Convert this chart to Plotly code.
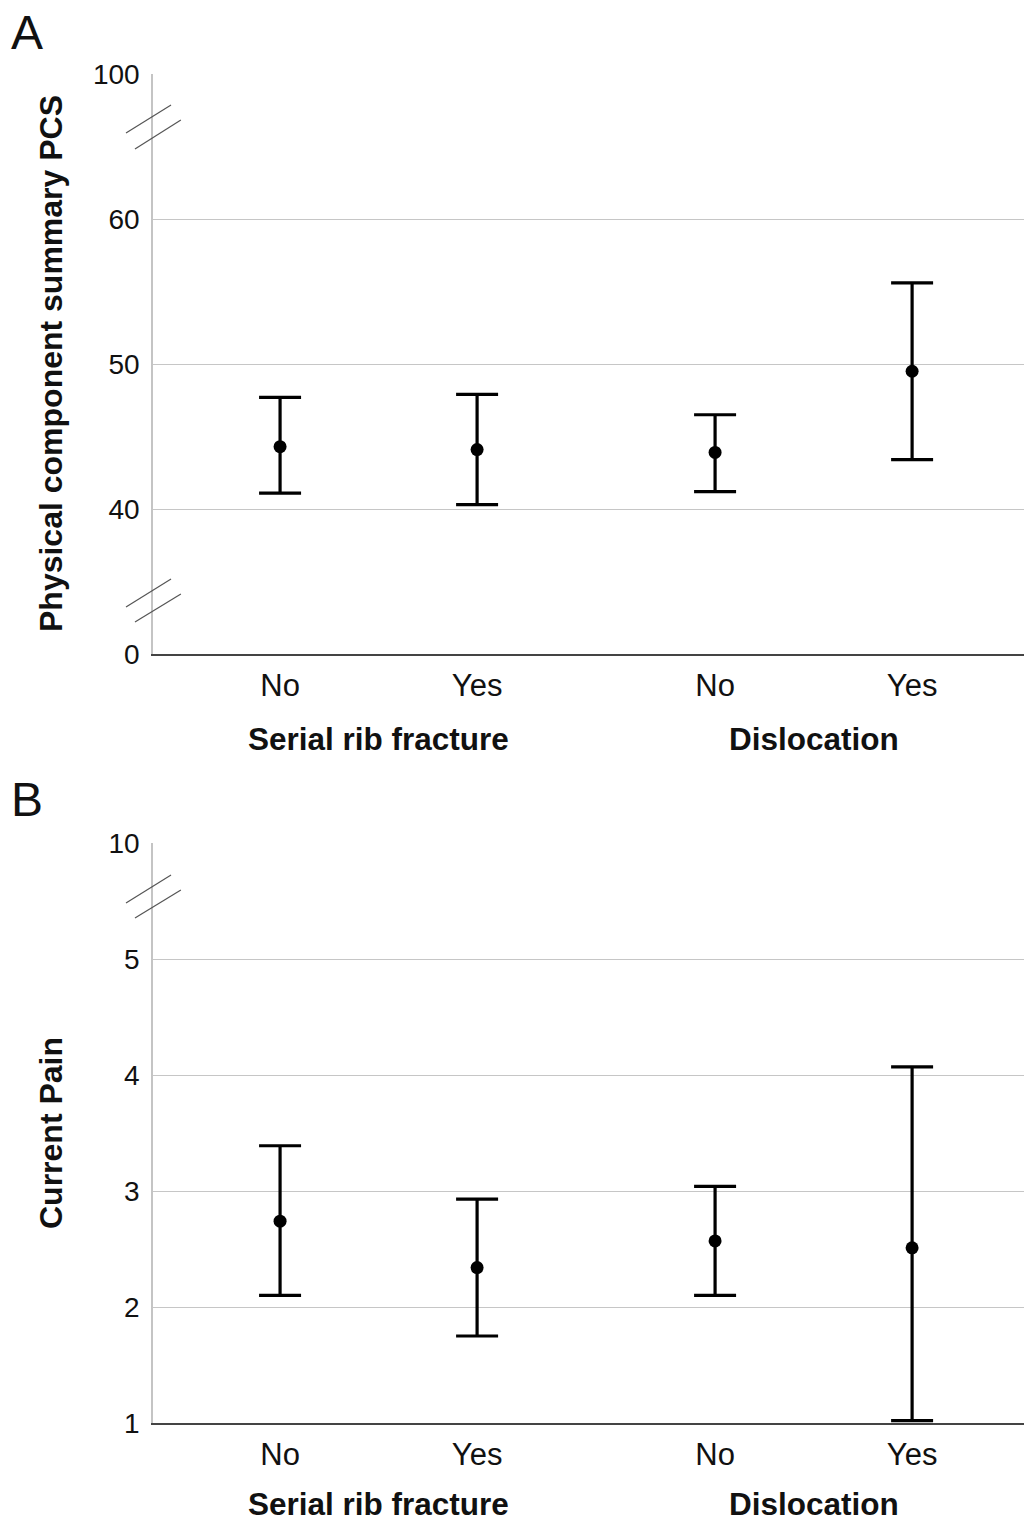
import plotly.graph_objects as go

# ---- data ----
categories = ["No", "Yes", "No", "Yes"]
groups = ["Serial rib fracture", "Dislocation"]

pcs_mean = [44.3, 44.1, 43.9, 49.5]
pcs_upper = [47.7, 47.9, 46.5, 55.6]
pcs_lower = [41.1, 40.3, 41.2, 43.4]

pain_mean = [2.74, 2.34, 2.57, 2.51]
pain_upper = [3.39, 2.93, 3.04, 4.07]
pain_lower = [2.10, 1.75, 2.10, 1.02]

pcs_ticks = [0, 40, 50, 60, 100]
pain_ticks = [1, 2, 3, 4, 5, 10]

# ---- axis mapping for broken axes ----
def map_pcs(v):
    if v <= 40:
        return 30 + v / 40 * 10
    if v >= 60:
        return 60 + (v - 60) / 40 * 10
    return v

def map_pain(v):
    if v > 5:
        return 5 + (v - 5) / 5
    return v

xpos = [0.645, 1.645, 2.853, 3.853]
xgroup = [1.145, 3.353]
XMAX = 4.421
PLOT_W = 871

FONT = "Liberation Sans, Arial, sans-serif"

fig = go.Figure()

def add_panel(mean, upper, lower, mapf, yaxis, xaxis):
    y = [mapf(m) for m in mean]
    ep = [mapf(u) - mapf(m) for u, m in zip(upper, mean)]
    em = [mapf(m) - mapf(l) for l, m in zip(lower, mean)]
    fig.add_trace(go.Scatter(
        x=xpos, y=y, mode="markers", xaxis=xaxis, yaxis=yaxis,
        marker=dict(color="black", size=13),
        error_y=dict(type="data", symmetric=False, array=ep, arrayminus=em,
                     color="black", thickness=3.2, width=21),
        showlegend=False, hoverinfo="skip"))

add_panel(pcs_mean, pcs_upper, pcs_lower, map_pcs, "y", "x")
add_panel(pain_mean, pain_upper, pain_lower, map_pain, "y2", "x2")

dom_a = [769 / 1349, 1.0]
dom_b = [0.0, 580 / 1349]

xcommon = dict(range=[0, XMAX], tickvals=xpos, ticktext=categories,
               showgrid=False, zeroline=False, showline=True, linecolor="#444",
               linewidth=1.5, ticks="outside", ticklen=3, tickcolor="rgba(0,0,0,0)",
               tickfont=dict(family=FONT, size=31, color="#111"), fixedrange=True)
ycommon = dict(showgrid=True, gridcolor="#c6c6c6", gridwidth=1.3, zeroline=False,
               showline=True, linecolor="#c4c4c4", linewidth=1.5,
               ticks="outside", ticklen=6, tickcolor="rgba(0,0,0,0)",
               tickfont=dict(family=FONT, size=28, color="#111"), fixedrange=True)

fig.update_layout(
    width=1027, height=1524,
    margin=dict(l=153, r=3, t=74, b=101),
    paper_bgcolor="white", plot_bgcolor="white",
    xaxis=dict(domain=[0, 1], anchor="y", **xcommon),
    xaxis2=dict(domain=[0, 1], anchor="y2", **xcommon),
    yaxis=dict(domain=dom_a, anchor="x", range=[30, 70],
               tickvals=[map_pcs(t) for t in pcs_ticks], ticktext=[str(t) for t in pcs_ticks],
               **ycommon),
    yaxis2=dict(domain=dom_b, anchor="x2", range=[1, 6],
                tickvals=[map_pain(t) for t in pain_ticks], ticktext=[str(t) for t in pain_ticks],
                **ycommon),
)

# y-axis titles
for dom, title in ((dom_a, "Physical component summary PCS"), (dom_b, "Current Pain")):
    fig.add_annotation(x=(51 - 153) / PLOT_W, xref="paper", xanchor="center",
                       y=(dom[0] + dom[1]) / 2, yref="paper", yanchor="middle",
                       text="<b>" + title + "</b>", textangle=-90, showarrow=False,
                       font=dict(family=FONT, size=32, color="#111"))

# group labels
for xa, dom, shift in (("x", dom_a, -85), ("x2", dom_b, -81)):
    for gx, g in zip(xgroup, groups):
        fig.add_annotation(x=gx, xref=xa, y=dom[0], yref="paper", yshift=shift,
                           text="<b>" + g + "</b>", showarrow=False,
                           font=dict(family=FONT, size=31.5, color="#111"),
                           xanchor="center", yanchor="middle")

# panel letters
fig.add_annotation(x=(9 - 153) / PLOT_W, xref="paper", xanchor="left", y=1, yref="paper",
                   yshift=74 - 32, text="A", showarrow=False, yanchor="middle",
                   font=dict(family=FONT, size=48, color="#111"))
fig.add_annotation(x=(9 - 153) / PLOT_W, xref="paper", xanchor="left", y=dom_b[1], yref="paper",
                   yshift=843 - 800, text="B", showarrow=False, yanchor="middle",
                   font=dict(family=FONT, size=48, color="#111"))

# axis break marks
def brk(xref, yref, ys):
    xs = [(-0.031, 0.0207), (-0.0207, 0.032)]
    for (x0, x1), (y0, y1) in zip(xs, ys):
        fig.add_shape(type="line", xref=xref + " domain", yref=yref,
                      x0=x0, x1=x1, y0=y0, y1=y1,
                      line=dict(color="#555", width=1.2))

brk("x", "y", [(65.93, 67.86), (64.83, 66.83)])
brk("x", "y", [(33.24, 35.17), (32.21, 34.14)])
brk("x2", "y2", [(5.483, 5.724), (5.353, 5.595)])

fig.write_html("out.html", config={"displayModeBar": False},
               post_script="document.body.style.margin='0';document.body.style.overflow='hidden';")
